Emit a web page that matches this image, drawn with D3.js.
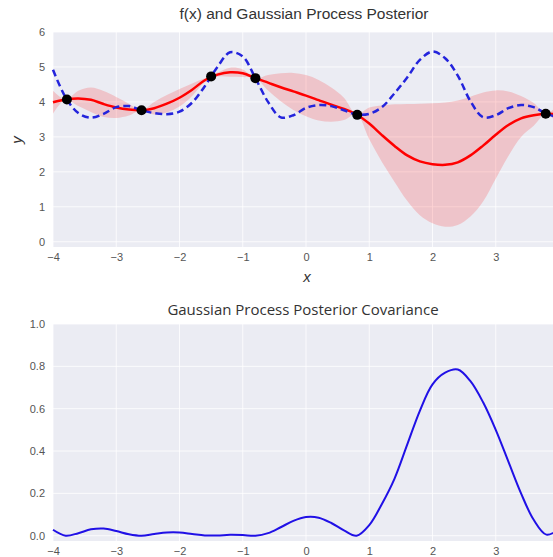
<!DOCTYPE html>
<html>
<head>
<meta charset="utf-8">
<script src="https://cdn.jsdelivr.net/npm/d3@7"></script>
<style>
  body { margin: 0; background: #fff; }
  svg { display: block; }
</style>
</head>
<body>
<svg id="chart" width="553" height="557"></svg>
<script>
// grid of x positions (step 0.2)
var xs = [-4.0, -3.8, -3.6, -3.4, -3.2, -3.0, -2.8, -2.6, -2.4, -2.2, -2.0, -1.8, -1.6, -1.4, -1.2, -1.0, -0.8, -0.6, -0.4, -0.2,
          0.0, 0.2, 0.4, 0.6, 0.8, 1.0, 1.2, 1.4, 1.6, 1.8, 2.0, 2.2, 2.4, 2.6, 2.8, 3.0, 3.2, 3.4, 3.6, 3.8, 4.0];

// true function (dashed)
var fTrue = [4.92, 4.13, 3.68, 3.55, 3.66, 3.85, 3.88, 3.76, 3.68, 3.65, 3.72, 3.98, 4.45, 5.0, 5.42, 5.3, 4.68, 4.0, 3.56, 3.62,
             3.83, 3.91, 3.88, 3.76, 3.64, 3.66, 3.85, 4.25, 4.7, 5.2, 5.44, 5.25, 4.75, 4.02, 3.56, 3.62, 3.82, 3.91, 3.85, 3.66, 3.55];

// posterior mean
var postMean = [3.99, 4.07, 4.1, 4.06, 3.94, 3.84, 3.78, 3.76, 3.82, 3.95, 4.12, 4.35, 4.62, 4.78, 4.85, 4.82, 4.68, 4.55, 4.42, 4.3,
                4.18, 4.05, 3.92, 3.8, 3.64, 3.38, 3.05, 2.74, 2.47, 2.3, 2.22, 2.2, 2.27, 2.47, 2.75, 3.06, 3.34, 3.53, 3.62, 3.66, 3.64];

// shaded confidence band
var bandLow = [3.66, 4.07, 3.88, 3.71, 3.57, 3.54, 3.61, 3.76, 3.64, 3.70, 3.87, 4.17, 4.56, 4.72, 4.72, 4.71, 4.68, 4.33, 4.02, 3.77,
               3.59, 3.47, 3.43, 3.48, 3.64, 2.93, 2.28, 1.71, 1.17, 0.76, 0.53, 0.43, 0.48, 0.72, 1.15, 1.8, 2.45, 3.0, 3.32, 3.66, 3.31];
var bandHigh = [4.32, 4.07, 4.32, 4.41, 4.31, 4.14, 3.95, 3.76, 4.00, 4.20, 4.37, 4.53, 4.68, 4.84, 4.98, 4.93, 4.68, 4.77, 4.82, 4.83,
                4.77, 4.63, 4.41, 4.12, 3.64, 3.84, 3.9, 3.93, 3.94, 3.95, 3.96, 3.98, 4.04, 4.15, 4.27, 4.33, 4.3, 4.17, 3.97, 3.66, 3.97];

// posterior variance (diagonal of covariance)
var postVar = [0.028, 0.0, 0.012, 0.03, 0.034, 0.022, 0.007, 0.0, 0.008, 0.015, 0.015, 0.008, 0.001, 0.001, 0.004, 0.003, 0.0, 0.012, 0.04, 0.07,
               0.088, 0.085, 0.06, 0.025, 0.0, 0.05, 0.15, 0.27, 0.43, 0.59, 0.715, 0.77, 0.785, 0.73, 0.63, 0.5, 0.35, 0.2, 0.075, 0.005, 0.03];

// observed points
var obsX = [-3.78, -2.6, -1.5, -0.8, 0.81, 3.79];
var obsY = [4.07, 3.76, 4.73, 4.68, 3.63, 3.66];

var xTicks = [-4, -3, -2, -1, 0, 1, 2, 3];
var yTicksTop = [0, 1, 2, 3, 4, 5, 6];
var yTicksBottom = [0.0, 0.2, 0.4, 0.6, 0.8, 1.0];

var svg = d3.select('#chart');
var left = 53, right = 559;

var x = d3.scaleLinear().domain([-4, 4]).range([left, right]);
var yTop = d3.scaleLinear().domain([-0.15, 6]).range([247, 32]);
var yBot = d3.scaleLinear().domain([-0.025, 1.0]).range([541, 324]);

var tickFont = 'Liberation Sans, Arial, sans-serif';

function panel(y, yTicks, fmt) {
    var g = svg.append('g');
    g.append('rect')
        .attr('x', left).attr('y', y.range()[1])
        .attr('width', right - left).attr('height', y.range()[0] - y.range()[1])
        .attr('fill', '#ebecf3');
    g.selectAll('.vg').data(xTicks).enter().append('line')
        .attr('x1', d => x(d)).attr('x2', d => x(d))
        .attr('y1', y.range()[1]).attr('y2', y.range()[0])
        .attr('stroke', '#fff').attr('stroke-width', 1).attr('stroke-opacity', 0.8);
    g.selectAll('.hg').data(yTicks.filter(d => y(d) >= y.range()[1])).enter().append('line')
        .attr('x1', left).attr('x2', right)
        .attr('y1', d => y(d)).attr('y2', d => y(d))
        .attr('stroke', '#fff').attr('stroke-width', 1).attr('stroke-opacity', 0.8);

    var ax = g.append('g')
        .attr('transform', 'translate(0,' + y.range()[0] + ')')
        .call(d3.axisBottom(x).tickValues(xTicks).tickSize(0).tickPadding(6).tickFormat(d => d < 0 ? '\u2212' + Math.abs(d) : d));
    var ay = g.append('g')
        .attr('transform', 'translate(' + left + ',0)')
        .call(d3.axisLeft(y).tickValues(yTicks).tickSize(0).tickPadding(8).tickFormat(fmt));
    [ax, ay].forEach(function (a) {
        a.select('.domain').remove();
        a.selectAll('text').attr('fill', '#555').attr('font-size', '11px').attr('font-family', tickFont);
    });
    return g;
}

// ---- top: f(x) and posterior ----
var gTop = panel(yTop, yTicksTop, d3.format('d'));

var rows = xs.map(function (d, i) {
    return { x: d, f: fTrue[i], m: postMean[i], lo: bandLow[i], hi: bandHigh[i], v: postVar[i] };
});

gTop.append('path')
    .datum(rows)
    .attr('fill', '#ff0000').attr('fill-opacity', 0.17)
    .attr('d', d3.area().x(d => x(d.x)).y0(d => yTop(d.lo)).y1(d => yTop(d.hi)).curve(d3.curveCatmullRom));

gTop.append('path')
    .datum(rows)
    .attr('fill', 'none').attr('stroke', '#ff0000').attr('stroke-width', 2.5)
    .attr('d', d3.line().x(d => x(d.x)).y(d => yTop(d.m)).curve(d3.curveCatmullRom));

gTop.append('path')
    .datum(rows)
    .attr('fill', 'none').attr('stroke', '#2424dc').attr('stroke-width', 2.5)
    .attr('stroke-dasharray', '7,4')
    .attr('d', d3.line().x(d => x(d.x)).y(d => yTop(d.f)).curve(d3.curveCatmullRom));

gTop.selectAll('.obs').data(obsX).enter().append('circle')
    .attr('cx', d => x(d)).attr('cy', (d, i) => yTop(obsY[i]))
    .attr('r', 5).attr('fill', '#000');

svg.append('text')
    .attr('x', 304).attr('y', 19).attr('text-anchor', 'middle')
    .attr('font-family', tickFont).attr('font-size', '15.5px').attr('fill', '#333')
    .text('f(x) and Gaussian Process Posterior');
svg.append('text')
    .attr('x', 307).attr('y', 282).attr('text-anchor', 'middle')
    .attr('font-family', tickFont).attr('font-size', '15px').attr('font-style', 'italic').attr('fill', '#333')
    .text('x');
svg.append('text')
    .attr('transform', 'translate(22,140) rotate(-90)').attr('text-anchor', 'middle')
    .attr('font-family', tickFont).attr('font-size', '15px').attr('font-style', 'italic').attr('fill', '#333')
    .text('y');

// ---- bottom: posterior covariance ----
var gBot = panel(yBot, yTicksBottom, d3.format('.1f'));

gBot.append('path')
    .datum(rows)
    .attr('fill', 'none').attr('stroke', '#2010e6').attr('stroke-width', 2)
    .attr('d', d3.line().x(d => x(d.x)).y(d => yBot(d.v)).curve(d3.curveCatmullRom));

svg.append('text')
    .attr('x', 303).attr('y', 315).attr('text-anchor', 'middle')
    .attr('font-family', 'Open Sans, sans-serif').attr('font-size', '15px').attr('fill', '#333')
    .text('Gaussian Process Posterior Covariance');
</script>
</body>
</html>
